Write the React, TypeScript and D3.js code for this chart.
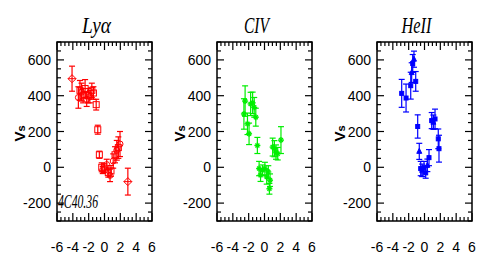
import React from "react";
import * as d3 from "d3";

// Lyman alpha (red, open markers)
const lyaX = [-4.1, -3.3, -3.1, -2.9, -2.7, -2.45, -2.25, -2.05, -1.85, -1.6, -1.4, -1.05, -0.85, -0.65, -0.35, -0.22, -0.02, 0.28, 0.48, 0.7, 0.82, 1.1, 1.33, 1.55, 1.75, 1.96, 2.95];
const lyaY = [495, 390, 430, 420, 400, 440, 380, 400, 395, 430, 415, 350, 210, 70, 0, -15, -5, 15, -30, -45, -20, 35, 70, 95, 110, 130, -80];
const lyaErr = [70, 60, 55, 50, 40, 50, 40, 40, 35, 40, 35, 30, 25, 20, 25, 20, 25, 30, 25, 35, 30, 40, 45, 55, 60, 70, 75];
const lyaShape = ["d", "c", "s", "c", "s", "s", "c", "s", "c", "s", "s", "s", "s", "s", "s", "c", "s", "c", "s", "c", "s", "c", "s", "c", "s", "c", "d"];

// CIV (green, star markers)
const civX = [-2.6, -2.45, -2.15, -1.95, -1.75, -1.5, -1.3, -1.1, -0.9, -0.68, -0.5, -0.25, 0.05, 0.28, 0.48, 0.7, 0.62, 1.03, 1.25, 1.45, 1.67, 2.08];
const civY = [298, 370, 243, 187, 354, 360, 335, 280, 122, -7, -44, -17, -7, -54, -26, -72, -120, 113, 104, 85, 76, 152];
const civErr = [85, 85, 60, 60, 65, 60, 55, 50, 45, 40, 35, 30, 35, 40, 35, 35, 30, 50, 45, 40, 35, 75];

// HeII (blue, filled markers)
const heX = [-2.88, -2.33, -1.74, -1.62, -1.49, -1.33, -1.11, -0.86, -0.66, -0.48, -0.3, -0.06, 0.15, 0.36, 0.57, 0.91, 1.12, 1.33, 1.74, 1.83];
const heY = [413, 387, 456, 529, 580, 604, 480, 228, 89, -7, -17, -2, -31, 11, 54, 261, 252, 270, 159, 104];
const heErr = [78, 78, 75, 55, 50, 45, 55, 65, 45, 40, 35, 35, 30, 35, 45, 45, 40, 55, 55, 75];
const heShape = ["s", "s", "s", "t", "s", "t", "s", "s", "t", "s", "t", "s", "s", "t", "s", "s", "t", "s", "s", "s"];

const xTickLabels = [-6, -4, -2, 0, 2, 4, 6];
const yTickLabels = [-200, 0, 200, 400, 600];

const panels = [
  { title: "Lyα", titleLen: 29, left: 57, color: "#ff0000", xs: lyaX, ys: lyaY, errs: lyaErr, shapes: lyaShape, kind: "open", note: "4C40.36" },
  { title: "CIV", titleLen: 25, left: 217, color: "#00ee00", xs: civX, ys: civY, errs: civErr, shapes: civX.map(() => "x"), kind: "star", note: "" },
  { title: "HeII", titleLen: 30, left: 377, color: "#0000ff", xs: heX, ys: heY, errs: heErr, shapes: heShape, kind: "fill", note: "" },
];

const W = 497, H = 258;
const top = 42, bottom = 221, pw = 95;
const numFont = "'Liberation Sans Narrow', 'Arial Narrow', sans-serif";

function Marker({ cx, cy, shape, color, kind }: any) {
  const r = 3;
  if (kind === "star") {
    return (
      <g stroke={color} strokeWidth={1.4}>
        <line x1={cx - r} y1={cy} x2={cx + r} y2={cy} />
        <line x1={cx} y1={cy - r} x2={cx} y2={cy + r} />
        <line x1={cx - 2} y1={cy - 2} x2={cx + 2} y2={cy + 2} />
        <line x1={cx - 2} y1={cy + 2} x2={cx + 2} y2={cy - 2} />
      </g>
    );
  }
  const fill = kind === "fill" ? color : "none";
  if (shape === "c") return <circle cx={cx} cy={cy} r={r} fill={fill} stroke={color} strokeWidth={1} />;
  if (shape === "d")
    return (
      <g fill={fill} stroke={color} strokeWidth={1}>
        <path d={`M${cx},${cy - 4}L${cx + 4},${cy}L${cx},${cy + 4}L${cx - 4},${cy}Z`} />
        <line x1={cx - 4} y1={cy} x2={cx + 4} y2={cy} />
      </g>
    );
  if (shape === "t")
    return <path d={`M${cx},${cy - 3}L${cx + 2.5},${cy + 2}L${cx - 2.5},${cy + 2}Z`} fill={fill} stroke={color} strokeWidth={1} />;
  const s = kind === "fill" ? 2 : 3;
  return <rect x={cx - s} y={cy - s} width={2 * s} height={2 * s} fill={fill} stroke={color} strokeWidth={1} />;
}

function Panel({ p }: any) {
  const x = d3.scaleLinear().domain([-6, 6]).range([p.left, p.left + pw]);
  const y = d3.scaleLinear().domain([-300, 700]).range([bottom, top]);
  const xt = d3.range(-6, 6.01, 0.5);
  const yt = d3.range(-300, 701, 50);
  const right = p.left + pw;
  return (
    <g>
      <text x={x(0) - 8} y={33} textAnchor="middle" fontFamily="'Liberation Serif', serif" fontStyle="italic" fontSize={24}
        textLength={p.titleLen} lengthAdjust="spacingAndGlyphs">{p.title}</text>
      <text transform={`translate(${p.left - 32},${(top + bottom) / 2 + 2}) rotate(-90)`} textAnchor="middle"
        fontFamily="'Liberation Sans', Arial, sans-serif" fontWeight="bold" fontSize={15}>
        V<tspan fontSize={11}>s</tspan>
      </text>
      {/* error bars and markers */}
      <g>
        {p.xs.map((xv: number, i: number) => {
          const cx = x(xv), cy = y(p.ys[i]);
          const y1 = y(p.ys[i] + p.errs[i]), y2 = y(p.ys[i] - p.errs[i]);
          return (
            <g key={i}>
              <g stroke={p.color} strokeWidth={1.2}>
                <line x1={cx} y1={y1} x2={cx} y2={y2} />
                <line x1={cx - 3} y1={y1} x2={cx + 3} y2={y1} />
                <line x1={cx - 3} y1={y2} x2={cx + 3} y2={y2} />
              </g>
              <Marker cx={cx} cy={cy} shape={p.shapes[i]} color={p.color} kind={p.kind} />
            </g>
          );
        })}
      </g>
      {/* frame */}
      <rect x={p.left} y={top} width={pw} height={bottom - top} fill="none" stroke="#000" strokeWidth={1.5} />
      {xt.map((v: number) => {
        const len = Math.abs(v % 2) < 1e-6 ? 8 : 4;
        return (
          <g key={"x" + v} stroke="#000" strokeWidth={1.2}>
            <line x1={x(v)} y1={bottom} x2={x(v)} y2={bottom - len} />
            <line x1={x(v)} y1={top} x2={x(v)} y2={top + len} />
          </g>
        );
      })}
      {yt.map((v: number) => {
        const len = v % 200 === 0 ? 7 : 4;
        return (
          <g key={"y" + v} stroke="#000" strokeWidth={1.2}>
            <line x1={p.left} y1={y(v)} x2={p.left + len} y2={y(v)} />
            <line x1={right} y1={y(v)} x2={right - len} y2={y(v)} />
          </g>
        );
      })}
      {yTickLabels.map((v) => (
        <text key={"yl" + v} x={p.left - 6} y={y(v) + 5} textAnchor="end" fontFamily={numFont} fontSize={14}>{v}</text>
      ))}
      {xTickLabels.map((v) => (
        <text key={"xl" + v} x={x(v)} y={252} textAnchor="middle" fontFamily={numFont} fontSize={14}>{v}</text>
      ))}
      {p.note && (
        <text x={p.left + 1} y={208} fontFamily="'Liberation Serif', serif" fontStyle="italic" fontSize={19}
          textLength={40} lengthAdjust="spacingAndGlyphs">{p.note}</text>
      )}
    </g>
  );
}

export default function App() {
  return (
    <div style={{ position: "fixed", left: 0, top: 0 }}>
      <svg width={W} height={H} style={{ display: "block", background: "#fff" }}>
        {panels.map((p) => (
          <Panel key={p.title} p={p} />
        ))}
      </svg>
    </div>
  );
}
